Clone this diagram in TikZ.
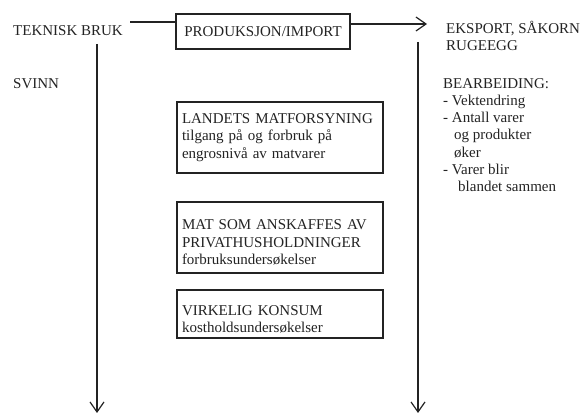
\documentclass[tikz,border=0pt]{standalone}
\usepackage{fontspec}
\setmainfont{Liberation Serif}
\usetikzlibrary{arrows.meta,positioning}
\definecolor{MatInk}{RGB}{35,35,35}
\tikzset{
  mat/box/.style={
    draw=MatInk,
    line width=1.4pt,
    fill=white,
    align=left,
    text=MatInk,
    inner xsep=5pt,
    inner ysep=3pt,
    font=\fontsize{15}{17.3}\selectfont
  },
  mat/label/.style={
    anchor=base west,
    inner sep=0pt,
    align=left,
    text=MatInk,
    font=\fontsize{15}{17.3}\selectfont
  },
  mat/line/.style={line width=1.2pt, draw=MatInk},
  mat/arrow/.style={-{Straight Barb[length=10pt,width=14pt,line width=1.2pt]}, line width=1.2pt, draw=MatInk}
}
\begin{document}
\begin{tikzpicture}[x=1pt,y=-1pt]
  \useasboundingbox (0,0) rectangle (585,412);
  % top row (multi-line labels sit on the baseline of their last line)
  \node[mat/box,minimum width=174pt,minimum height=35pt] (prod) at (263,31.5) {PRODUKSJON/IMPORT};
  \node[mat/label] (teknisk) at (13,36) {TEKNISK BRUK};
  \node[mat/label] (eksport) at (446,50.5) {EKSPORT, SÅKORN\\RUGEEGG};
  \node[mat/label] (svinn) at (13,88) {SVINN};
  \node[mat/label] (bearb) at (443,191.8) {BEARBEIDING:\\- Vektendring\\- Antall varer\\\hspace*{11pt}og produkter\\\hspace*{11pt}øker\\- Varer blir\\\hspace*{15pt}blandet sammen};
  % boxes in the middle, the rule pushes the text a bit down
  \node[mat/box,text width=196pt,minimum height=71pt] (forsyning) at (280,137.5)
    {LANDETS MATFORSYNING\\tilgang på og forbruk på\\engrosnivå av matvarer};
  \node[mat/box,text width=196pt,minimum height=71pt] (anskaffes) at (280,237.5)
    {\rule{0pt}{20pt}MAT SOM ANSKAFFES AV\\PRIVATHUSHOLDNINGER\\forbruksundersøkelser};
  \node[mat/box,text width=196pt,minimum height=48pt] (konsum) at (280,314)
    {\rule{0pt}{21pt}VIRKELIG KONSUM\\kostholdsundersøkelser};
  % connectors
  \coordinate (tekend) at (130,22);
  \coordinate (ekstip) at (427,24);
  \coordinate (lefttop) at (97,44);
  \coordinate (leftend) at (97,413);
  \coordinate (righttop) at (418,42);
  \coordinate (rightend) at (418,413);
  \draw[mat/line] (prod.west |- tekend) -- (tekend);
  \draw[mat/arrow] (prod.east |- ekstip) -- (ekstip);
  \draw[mat/arrow] (lefttop) -- (leftend);
  \draw[mat/arrow] (righttop) -- (rightend);
\end{tikzpicture}
\end{document}
